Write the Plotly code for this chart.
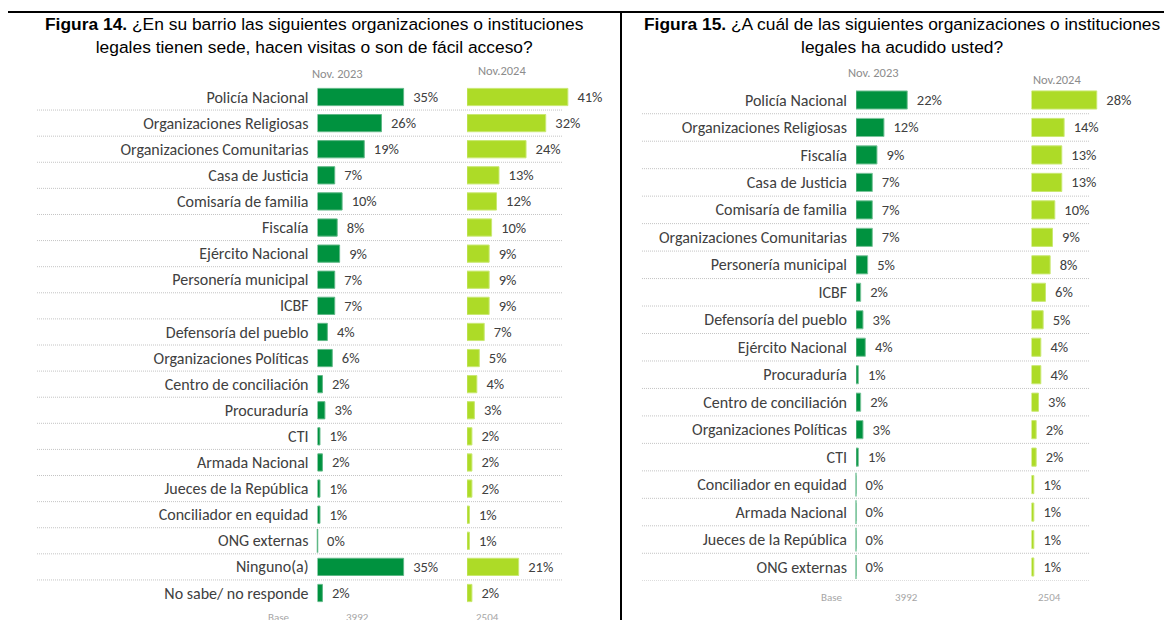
import plotly.graph_objects as go

# Figura 14 data
cats14 = ['Policía Nacional', 'Organizaciones Religiosas', 'Organizaciones Comunitarias', 'Casa de Justicia',
          'Comisaría de familia', 'Fiscalía', 'Ejército Nacional', 'Personería municipal', 'ICBF',
          'Defensoría del pueblo', 'Organizaciones Políticas', 'Centro de conciliación', 'Procuraduría', 'CTI',
          'Armada Nacional', 'Jueces de la República', 'Conciliador en equidad', 'ONG externas', 'Ninguno(a)',
          'No sabe/ no responde']
v14_2023 = [35, 26, 19, 7, 10, 8, 9, 7, 7, 4, 6, 2, 3, 1, 2, 1, 1, 0, 35, 2]
v14_2024 = [41, 32, 24, 13, 12, 10, 9, 9, 9, 7, 5, 4, 3, 2, 2, 2, 1, 1, 21, 2]

# Figura 15 data
cats15 = ['Policía Nacional', 'Organizaciones Religiosas', 'Fiscalía', 'Casa de Justicia', 'Comisaría de familia',
          'Organizaciones Comunitarias', 'Personería municipal', 'ICBF', 'Defensoría del pueblo', 'Ejército Nacional',
          'Procuraduría', 'Centro de conciliación', 'Organizaciones Políticas', 'CTI', 'Conciliador en equidad',
          'Armada Nacional', 'Jueces de la República', 'ONG externas']
v15_2023 = [22, 12, 9, 7, 7, 7, 5, 2, 3, 4, 1, 2, 3, 1, 0, 0, 0, 0]
v15_2024 = [28, 14, 13, 13, 10, 9, 8, 6, 5, 4, 4, 3, 2, 2, 1, 1, 1, 1]

periods = ['Nov. 2023', 'Nov.2024']
bases = ['3992', '2504']

# the page body has an 8px margin, so the figure is shifted by that much
OFF = 8
W, H = 1172 - OFF, 620 - OFF
DARK = '#00923F'
LIME = '#ADDB27'
LABEL_FONT = 'Carlito, Lato, sans-serif'
TITLE_FONT = 'Liberation Sans Narrow, Liberation Sans, Arial, sans-serif'


def px(x):
    return (x - OFF) / W


def py(y):
    return (H - (y - OFF)) / H


fig = go.Figure()


def add_bars(cats, vals, color, edge, xa, ya):
    fig.add_trace(go.Bar(
        y=cats, x=vals, orientation='h', xaxis=xa, yaxis=ya,
        marker=dict(color=color, line=dict(color=edge, width=1)),
        width=0.66, text=[f'{v}%' for v in vals], texttemplate='\u00a0\u00a0%{text}',
        textposition='outside', cliponaxis=False, constraintext='none',
        textfont=dict(family=LABEL_FONT, size=14.5, color='#404040'),
        showlegend=False, hoverinfo='x+y'))
    zc = [c for c, v in zip(cats, vals) if v == 0]
    if zc:
        fig.add_trace(go.Scatter(
            y=zc, x=[0] * len(zc), mode='markers', xaxis=xa, yaxis=ya,
            marker=dict(symbol='line-ns', size=17, line=dict(color=edge, width=1.5)),
            cliponaxis=False, showlegend=False, hoverinfo='skip'))


add_bars(cats14, v14_2023, DARK, '#5fb886', 'x', 'y')
add_bars(cats14, v14_2024, LIME, '#c9e872', 'x2', 'y')
add_bars(cats15, v15_2023, DARK, '#7cc59c', 'x3', 'y2')
add_bars(cats15, v15_2024, LIME, '#c9e872', 'x4', 'y2')

hidden_x = dict(range=[0, 50], visible=False, fixedrange=True)
fig.update_layout(
    width=W, height=H, margin=dict(l=0, r=0, t=0, b=0),
    paper_bgcolor='white', plot_bgcolor='rgba(0,0,0,0)',
    xaxis=dict(hidden_x, domain=[px(317.5), px(440.5)], anchor='y'),
    xaxis2=dict(hidden_x, domain=[px(467), px(590)], anchor='y'),
    xaxis3=dict(hidden_x, domain=[px(856), px(972.5)], anchor='y2'),
    xaxis4=dict(hidden_x, domain=[px(1031.5), px(1148)], anchor='y2'),
    yaxis=dict(type='category', categoryorder='array', categoryarray=cats14,
               range=[len(cats14) - 0.5, -0.5], domain=[py(606.05), py(83.95)], anchor='x',
               showgrid=False, showline=False, zeroline=False, ticks='', ticklabelstandoff=8,
               tickfont=dict(family=LABEL_FONT, size=16, color='#404040')),
    yaxis2=dict(type='category', categoryorder='array', categoryarray=cats15,
                range=[len(cats15) - 0.5, -0.5], domain=[py(580.74), py(86.26)], anchor='x3',
                showgrid=False, showline=False, zeroline=False, ticks='', ticklabelstandoff=8,
                tickfont=dict(family=LABEL_FONT, size=16, color='#404040')),
)

shapes = []
# panel borders
shapes.append(dict(type='line', xref='paper', yref='paper', x0=px(6), x1=1, y0=py(12), y1=py(12),
                   line=dict(color='black', width=2)))
for xb in (7, 621):
    shapes.append(dict(type='line', xref='paper', yref='paper', x0=px(xb), x1=px(xb), y0=0, y1=py(12),
                       line=dict(color='black', width=2)))
# dotted separators between rows
for i in range(len(cats14) - 1):
    shapes.append(dict(type='line', xref='paper', yref='y', x0=px(37), x1=px(563), y0=i + 0.5, y1=i + 0.5,
                       line=dict(color='#c4c4c4', width=1, dash='1px,1px')))
for i in range(len(cats15)):
    shapes.append(dict(type='line', xref='paper', yref='y2', x0=px(642), x1=px(1090), y0=i + 0.5, y1=i + 0.5,
                       line=dict(color='#c4c4c4', width=1, dash='1px,1px')))
fig.update_layout(shapes=shapes)

ann = []
ann.append(dict(x=px(314), y=py(36), text='<b>Figura 14.</b> ¿En su barrio las siguientes organizaciones o instituciones<br>'
                                          'legales tienen sede, hacen visitas o son de fácil acceso?',
                font=dict(family=TITLE_FONT, size=17.4, color='black')))
ann.append(dict(x=px(902), y=py(36), text='<b>Figura 15.</b> ¿A cuál de las siguientes organizaciones o instituciones<br>'
                                          'legales ha acudido usted?',
                font=dict(family=TITLE_FONT, size=17.4, color='black')))
# column headers
for xh, yh, t in [(337, 74, periods[0]), (502, 71, periods[1]), (873, 73, periods[0]), (1057, 79, periods[1])]:
    ann.append(dict(x=px(xh), y=py(yh), text=t, font=dict(family=LABEL_FONT, size=12.5, color='#8c8c8c')))
# base row
for xb, yb, t in [(279, 617, 'Base'), (357, 617, bases[0]), (487, 617, bases[1]),
                  (832, 597, 'Base'), (906, 597, bases[0]), (1049, 597, bases[1])]:
    ann.append(dict(x=px(xb), y=py(yb), text=t, font=dict(family=LABEL_FONT, size=11, color='#a6a6a6')))
for a in ann:
    a.update(xref='paper', yref='paper', showarrow=False, align='center', xanchor='center', yanchor='middle')
fig.update_layout(annotations=ann)

fig.write_html('out.html')
